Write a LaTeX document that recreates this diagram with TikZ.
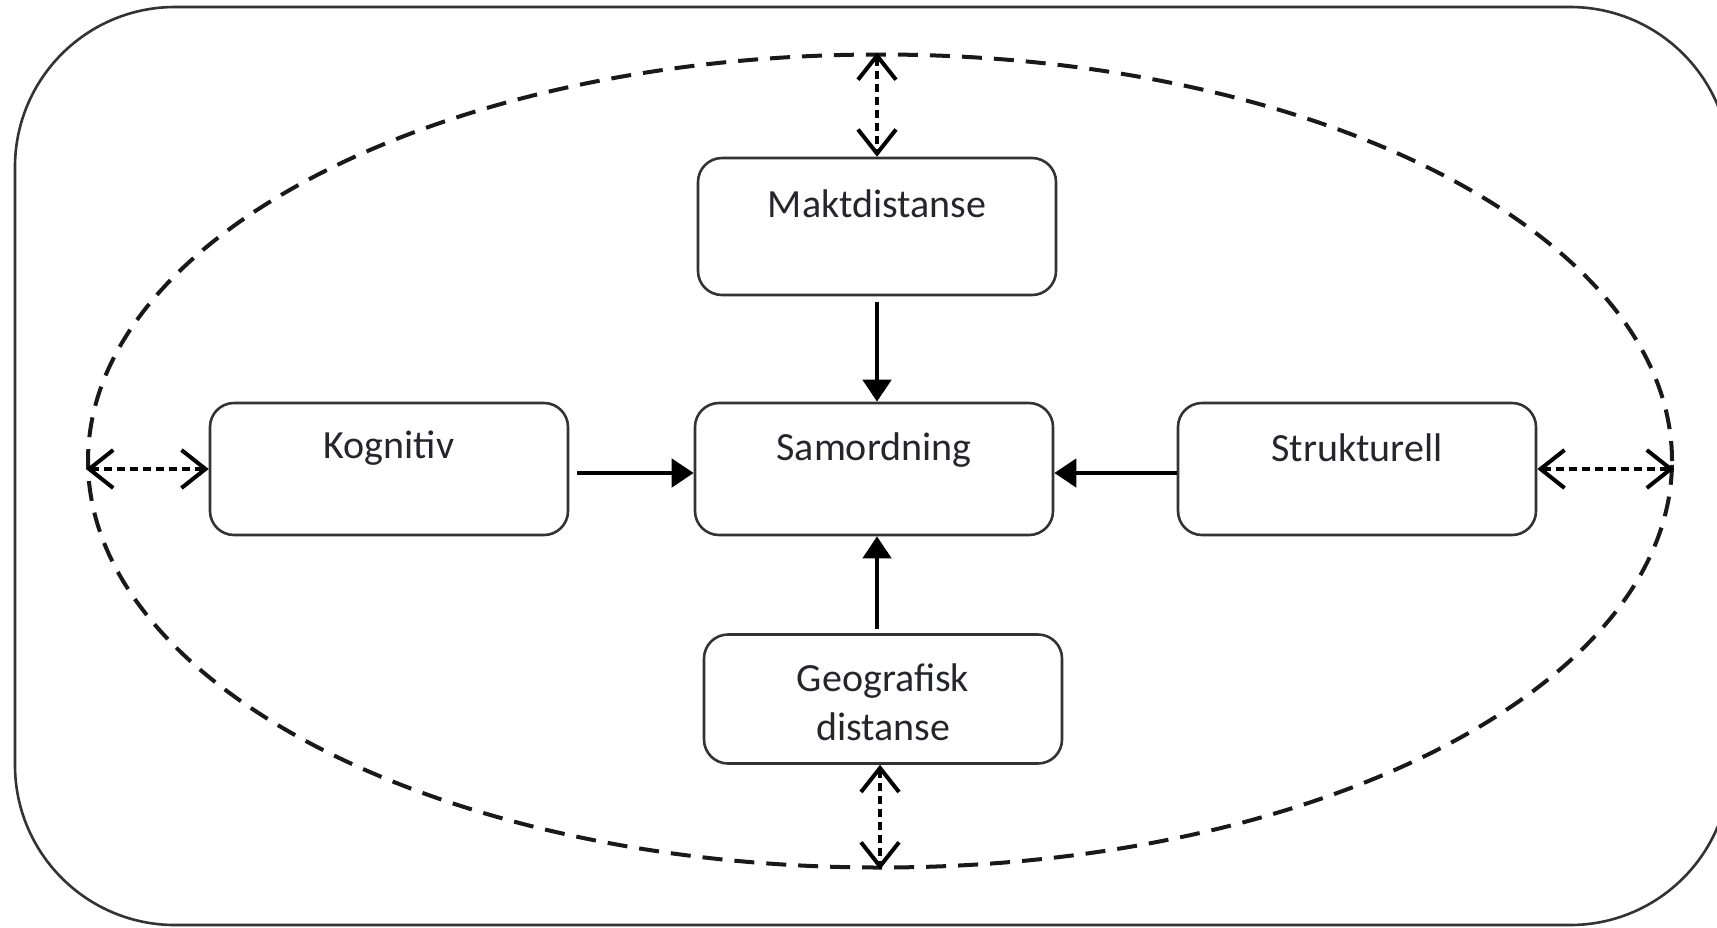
\documentclass[tikz,border=0pt]{standalone}
\usepackage{fontspec}
\setmainfont{Carlito}
\usetikzlibrary{shapes.geometric,arrows.meta,calc}
\definecolor{boxline}{HTML}{333333}
\definecolor{txt}{HTML}{25252C}
\begin{document}
\begin{tikzpicture}[x=0.5pt,y=-0.5pt,
  stepbox/.style={draw=boxline,line width=1.3pt,rounded corners=12pt,minimum width=179pt,minimum height=66pt,inner sep=0pt},
  lbl/.style={text=txt,font=\fontsize{20}{24.5}\selectfont,align=center,inner sep=0pt},
  solidarrow/.style={draw=black,line width=2.3pt,-{Triangle[length=11pt,width=14pt]}},
  dasharrow/.style={draw=black,line width=2pt,dash pattern=on 4pt off 2.5pt,{Straight Barb[length=12pt,width=19pt,line width=2pt]}-{Straight Barb[length=12pt,width=19pt,line width=2pt]}},
  outer/.style={draw=boxline,line width=1.3pt,rounded corners=80pt}]
\useasboundingbox (0,0) rectangle (1717,927);
\draw[outer] (15,7) rectangle (1730,925);
\node[ellipse,draw=black!90,line width=2pt,dash pattern=on 10pt off 6pt,minimum width=792pt,minimum height=406.5pt,inner sep=0pt] (ell) at (880,461) {};
\node[stepbox,minimum height=68.5pt] (mak) at (877,226.5) {};
\node[stepbox] (sam) at (874,469) {};
\node[stepbox] (kog) at (389,469) {};
\node[stepbox] (str) at (1357,469) {};
\node[stepbox,minimum height=64.5pt] (geo) at (883,699) {};
\node[lbl] (makt) at ($(mak.north)+(0,47)$) {Maktdistanse};
\node[lbl] (samt) at ($(sam.north)+(0,48)$) {Samordning};
\node[lbl] (kogt) at ($(kog.north)+(0,46)$) {Kognitiv};
\node[lbl] (strt) at ($(str.north)+(0,46)$) {Strukturell};
\node[lbl] (geot) at ($(geo.center)+(0,3)$) {Geografisk\\distanse};
\draw[solidarrow,shorten <=3pt] (mak.south) -- (mak.south |- sam.north);
\draw[solidarrow,shorten <=2pt] (geo.north -| mak.south) -- (sam.south -| mak.south);
\draw[solidarrow,shorten <=4pt] ($(kog.east)+(0,4)$) -- ($(sam.west)+(0,4)$);
\draw[solidarrow] ($(str.west)+(0,4)$) -- ($(sam.east)+(0,4)$);
\draw[dasharrow] (ell.north -| mak.north) -- (mak.north);
\draw[dasharrow] (geo.south -| ell.south) -- (ell.south);
\draw[dasharrow] (ell.west |- kog.west) -- (kog.west);
\draw[dasharrow] (str.east) -- (ell.east |- str.east);
\end{tikzpicture}
\end{document}
